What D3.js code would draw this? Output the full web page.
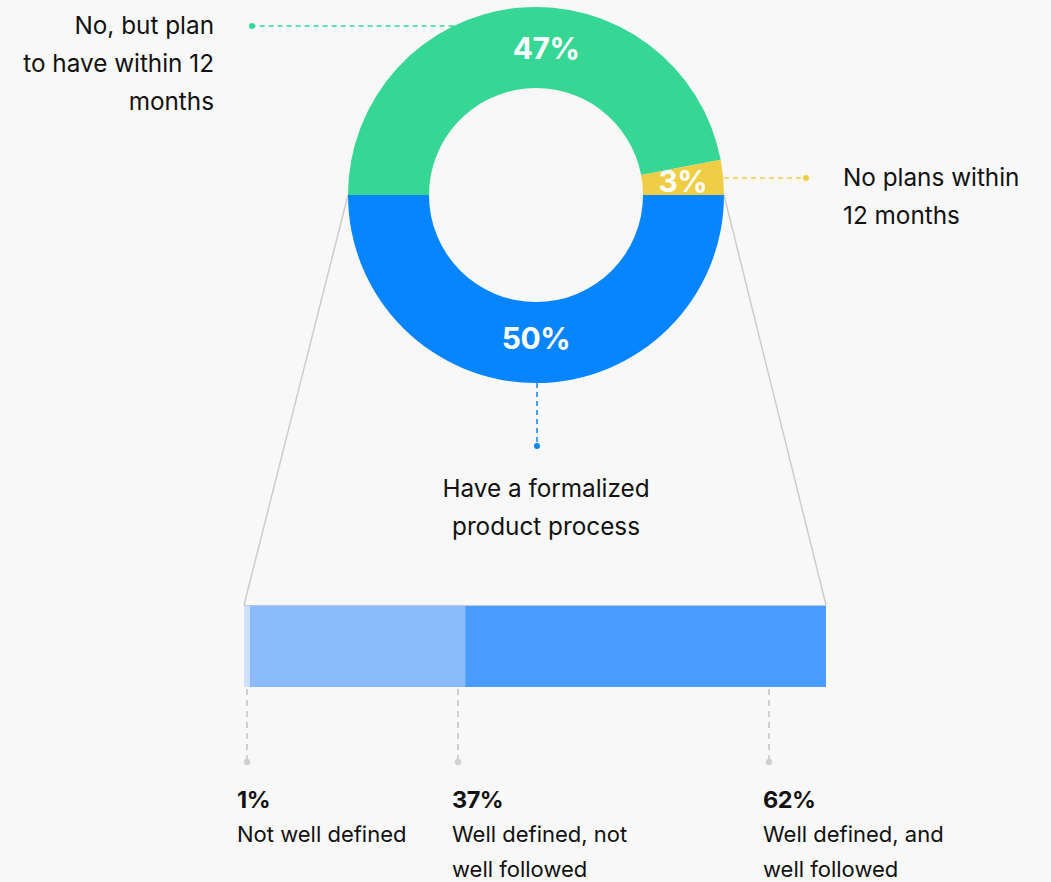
<!DOCTYPE html>
<html>
<head>
<meta charset="utf-8">
<script src="https://cdn.jsdelivr.net/npm/d3@7"></script>
<style>
  html, body { margin: 0; padding: 0; background: #f8f8f8; }
  svg { display: block; font-family: Inter, "Open Sans", sans-serif; }
</style>
</head>
<body>
<svg id="chart" width="1051" height="882"></svg>
<script>
// Share of teams with a formalized product process
const donutKeys   = ["have", "plan", "none"];
const donutValues = [50, 47, 3];
const donutLabels = [
  ["Have a formalized", "product process"],
  ["No, but plan", "to have within 12", "months"],
  ["No plans within", "12 months"]
];
const donutColors = ["#0685fe", "#36d695", "#efcd45"];

// Breakdown of the "have a process" group
const barKeys   = ["notDefined", "notFollowed", "followed"];
const barValues = [1, 37, 62];
const barLabels = [
  ["Not well defined"],
  ["Well defined, not", "well followed"],
  ["Well defined, and", "well followed"]
];
const barColors = ["#cfe2fd", "#8bbbfd", "#4a9bfe"];

const svg = d3.select("#chart");
const cx = 536, cy = 195, rOuter = 188, rInner = 107;
const labelFont = 24.3;

// ---- Donut ----
const pie = d3.pie().sort(null).value(d => d)
  .startAngle(Math.PI / 2).endAngle(Math.PI / 2 + 2 * Math.PI);
const arcs = pie(donutValues);
const arc = d3.arc().innerRadius(rInner).outerRadius(rOuter);

// zoom-out connector lines from donut edge to bar
const barX = d3.scaleLinear().domain([0, d3.sum(barValues)]).range([244, 826]);
const barTop = 605, barBottom = 687;
const gLines = svg.append("g");
[[-rOuter, barX(0)], [rOuter, barX(100)]].forEach(([dx, bx]) => {
  gLines.append("line")
    .attr("x1", cx + dx).attr("y1", cy)
    .attr("x2", bx).attr("y2", barTop)
    .attr("stroke", "#cccccc").attr("stroke-width", 1.5);
});

const gDonut = svg.append("g").attr("transform", `translate(${cx},${cy})`);
gDonut.selectAll("path").data(arcs).join("path")
  .attr("d", arc)
  .attr("fill", (d, i) => donutColors[i]);

// percent labels inside ring; the large green slice keeps its label near the top
const midR = (rInner + rOuter) / 2;
const labelAngle = (d, i) => i === 1 ? 2 * Math.PI + 0.068 : (d.startAngle + d.endAngle) / 2;
gDonut.selectAll("text.pct").data(arcs).join("text")
  .attr("class", "pct")
  .attr("x", (d, i) => midR * Math.sin(labelAngle(d, i)))
  .attr("y", (d, i) => -midR * Math.cos(labelAngle(d, i)) + (i === 0 ? 6 : 11))
  .attr("text-anchor", "middle")
  .attr("fill", "#ffffff")
  .attr("font-weight", 700)
  .attr("font-size", 30)
  .attr("letter-spacing", -0.5)
  .text(d => d.data + "%");

// ---- Callouts for donut slices ----
const callG = svg.append("g");
// have: down from bottom of ring
callG.append("line")
  .attr("x1", cx + 1).attr("y1", cy + rOuter).attr("x2", cx + 1).attr("y2", 446)
  .attr("stroke", donutColors[0]).attr("stroke-width", 1.5).attr("stroke-dasharray", "5,4");
callG.append("circle").attr("cx", cx + 1).attr("cy", 446).attr("r", 3).attr("fill", donutColors[0]);
// plan: horizontal line to left
const planY = 26;
const planX = cx - Math.sqrt(rOuter * rOuter - (cy - planY) * (cy - planY));
callG.append("line")
  .attr("x1", planX).attr("y1", planY).attr("x2", 252).attr("y2", planY)
  .attr("stroke", donutColors[1]).attr("stroke-width", 1.5).attr("stroke-dasharray", "5,4");
callG.append("circle").attr("cx", 252).attr("cy", planY).attr("r", 3).attr("fill", donutColors[1]);
// none: horizontal line to right
const noneY = 178;
callG.append("line")
  .attr("x1", cx + rOuter).attr("y1", noneY).attr("x2", 806).attr("y2", noneY)
  .attr("stroke", donutColors[2]).attr("stroke-width", 1.5).attr("stroke-dasharray", "5,4");
callG.append("circle").attr("cx", 806).attr("cy", noneY).attr("r", 3).attr("fill", donutColors[2]);

function multiline(g, lines, x, y0, lh, anchor) {
  const t = g.append("text").attr("x", x).attr("y", y0)
    .attr("text-anchor", anchor).attr("fill", "#111").attr("font-size", labelFont);
  lines.forEach((s, i) => t.append("tspan").attr("x", x).attr("y", y0 + i * lh).text(s));
  return t;
}
multiline(callG, donutLabels[1], 214, 34, 38, "end");
multiline(callG, donutLabels[2], 843, 186, 38, "start");
multiline(callG, donutLabels[0], 546, 497, 38, "middle");

// ---- Stacked bar ----
let acc = 0;
const segs = barValues.map((v, i) => {
  const s = { key: barKeys[i], value: v, x0: acc, x1: acc + v, i };
  acc += v; return s;
});
const gBar = svg.append("g");
gBar.selectAll("rect").data(segs).join("rect")
  .attr("x", d => barX(d.x0))
  .attr("width", d => barX(d.x1) - barX(d.x0))
  .attr("y", barTop).attr("height", barBottom - barTop)
  .attr("fill", d => barColors[d.i]);
gBar.append("line")
  .attr("x1", barX(0)).attr("x2", barX(100)).attr("y1", barTop + 0.5).attr("y2", barTop + 0.5)
  .attr("stroke", "#b8c8dc").attr("stroke-width", 1);

// callouts below bar
const calloutX = [247, 458, 769];
const textX = [237, 452, 763];
const dotY = 762;
segs.forEach((d, i) => {
  const x = calloutX[i];
  gBar.append("line")
    .attr("x1", x).attr("x2", x).attr("y1", barBottom + 2).attr("y2", dotY)
    .attr("stroke", "#d0d0d0").attr("stroke-width", 2).attr("stroke-dasharray", "6,5");
  gBar.append("circle").attr("cx", x).attr("cy", dotY).attr("r", 3.2).attr("fill", "#d0d0d0");
  gBar.append("text")
    .attr("x", textX[i]).attr("y", 808)
    .attr("font-weight", 700).attr("font-size", 23.5).attr("fill", "#111")
    .attr("letter-spacing", -0.5)
    .text(d.value + "%");
  const t = gBar.append("text").attr("font-size", 22).attr("fill", "#111");
  barLabels[i].forEach((s, j) => t.append("tspan").attr("x", textX[i]).attr("y", 842 + j * 35).text(s));
});
</script>
</body>
</html>
